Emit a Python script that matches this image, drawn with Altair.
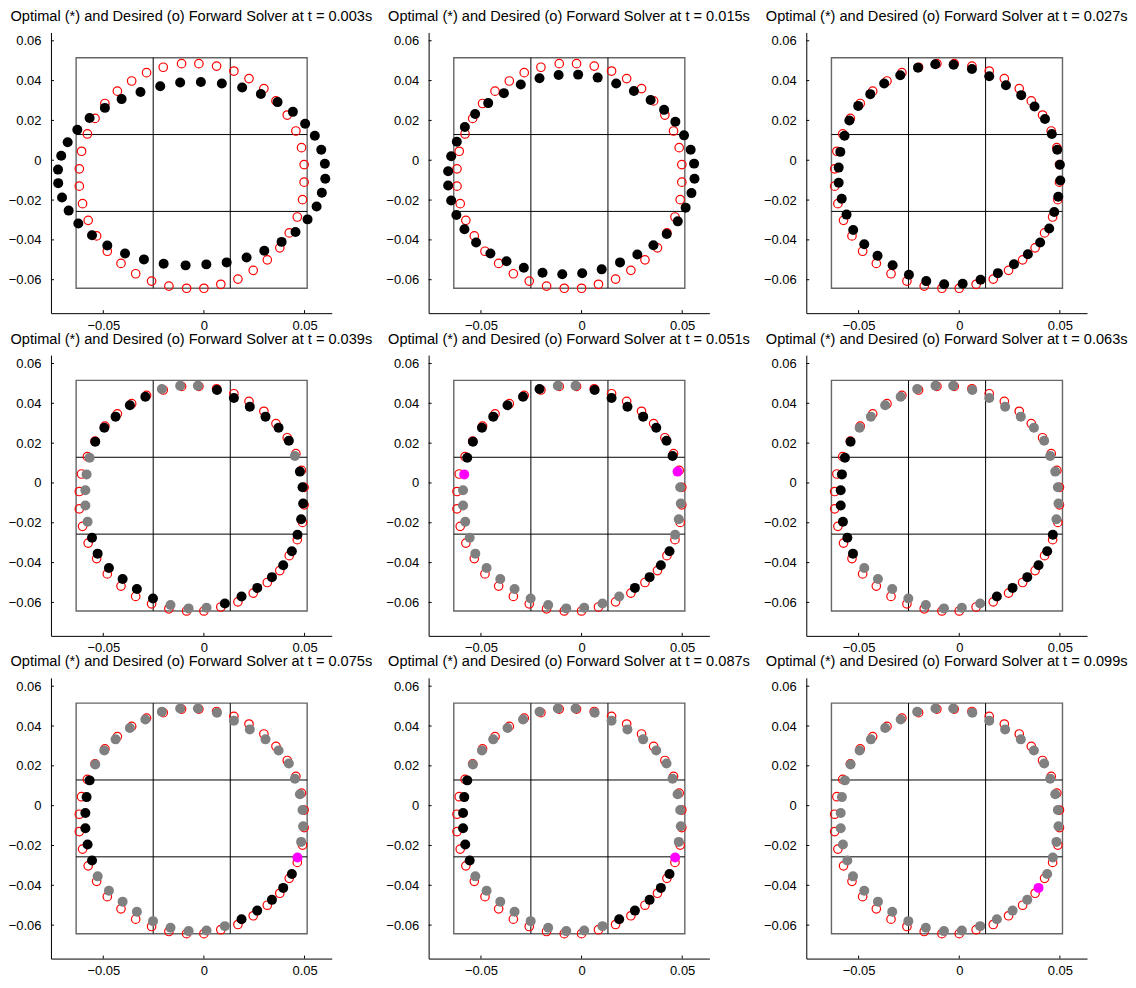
import altair as alt
import pandas as pd

FONT = "Liberation Sans"
TIMES = ["0.003", "0.015", "0.027", "0.039", "0.051", "0.063", "0.075", "0.087", "0.099"]

X_DOMAIN = [-0.0760, 0.0635]
Y_DOMAIN = [-0.0768, 0.0642]
X_TICKS = [-0.05, 0, 0.05]
Y_TICKS = [-0.06, -0.04, -0.02, 0, 0.02, 0.04, 0.06]

BOX_X = [-0.0635, 0.0513]
BOX_Y = [-0.0643, 0.0515]
VLINES_X = [-0.0252, 0.0131]
HLINES_Y = [0.0129, -0.0257]

# desired (red open circles)
DES_X = [-0.0025, -0.0111, -0.0202, -0.0285, -0.0359, -0.0430, -0.0492, -0.0541, -0.0579, -0.0608,
         -0.0619, -0.0619, -0.0603, -0.0575, -0.0533, -0.0480, -0.0412, -0.0339, -0.0260, -0.0174,
         -0.0086, 0.0000, 0.0084, 0.0169, 0.0245, 0.0315, 0.0377, 0.0424, 0.0464, 0.0490,
         0.0498, 0.0498, 0.0485, 0.0457, 0.0414, 0.0358, 0.0298, 0.0224, 0.0149, 0.0063]
DES_Y = [0.0485, 0.0485, 0.0467, 0.0440, 0.0398, 0.0347, 0.0285, 0.0210, 0.0132, 0.0045,
         -0.0043, -0.0130, -0.0218, -0.0302, -0.0380, -0.0457, -0.0518, -0.0570, -0.0607, -0.0632,
         -0.0643, -0.0643, -0.0623, -0.0597, -0.0553, -0.0500, -0.0440, -0.0365, -0.0285, -0.0198,
         -0.0110, -0.0022, 0.0063, 0.0147, 0.0227, 0.0298, 0.0360, 0.0410, 0.0448, 0.0473]

# optimal (filled) at t = 0.003
P1_X = [-0.0015, -0.0118, -0.0217, -0.0315, -0.0409, -0.0492, -0.0568, -0.0629, -0.0677, -0.0709,
        -0.0725, -0.0724, -0.0705, -0.0672, -0.0624, -0.0556, -0.0480, -0.0392, -0.0298, -0.0200,
        -0.0091, 0.0012, 0.0113, 0.0212, 0.0300, 0.0386, 0.0455, 0.0515, 0.0560, 0.0586,
        0.0603, 0.0601, 0.0583, 0.0551, 0.0503, 0.0442, 0.0366, 0.0283, 0.0190, 0.0089]
P1_Y = [0.0393, 0.0390, 0.0372, 0.0343, 0.0307, 0.0263, 0.0212, 0.0153, 0.0090, 0.0023,
        -0.0047, -0.0115, -0.0187, -0.0253, -0.0318, -0.0377, -0.0428, -0.0468, -0.0498, -0.0520,
        -0.0528, -0.0523, -0.0513, -0.0488, -0.0455, -0.0410, -0.0360, -0.0297, -0.0232, -0.0163,
        -0.0093, -0.0018, 0.0053, 0.0123, 0.0183, 0.0243, 0.0292, 0.0333, 0.0365, 0.0385]

# t = 0.015
P2_X = [-0.0017, -0.0114, -0.0209, -0.0302, -0.0386, -0.0464, -0.0529, -0.0580, -0.0620, -0.0648,
        -0.0663, -0.0663, -0.0648, -0.0622, -0.0582, -0.0524, -0.0453, -0.0373, -0.0287, -0.0194,
        -0.0096, 0.0003, 0.0100, 0.0191, 0.0277, 0.0357, 0.0423, 0.0478, 0.0517, 0.0546,
        0.0561, 0.0559, 0.0542, 0.0509, 0.0466, 0.0410, 0.0343, 0.0260, 0.0172, 0.0080]
P2_Y = [0.0430, 0.0428, 0.0412, 0.0380, 0.0337, 0.0287, 0.0232, 0.0167, 0.0093, 0.0020,
        -0.0055, -0.0127, -0.0202, -0.0275, -0.0347, -0.0413, -0.0468, -0.0507, -0.0540, -0.0565,
        -0.0573, -0.0568, -0.0548, -0.0513, -0.0473, -0.0427, -0.0370, -0.0307, -0.0238, -0.0165,
        -0.0093, -0.0017, 0.0053, 0.0125, 0.0193, 0.0253, 0.0303, 0.0348, 0.0385, 0.0415]

# t = 0.027
P3_X = [-0.0028, -0.0119, -0.0205, -0.0293, -0.0373, -0.0442, -0.0502, -0.0546, -0.0570, -0.0591,
        -0.0599, -0.0599, -0.0584, -0.0560, -0.0527, -0.0472, -0.0406, -0.0331, -0.0250, -0.0164,
        -0.0075, 0.0017, 0.0106, 0.0192, 0.0272, 0.0341, 0.0402, 0.0447, 0.0472, 0.0492,
        0.0502, 0.0500, 0.0487, 0.0460, 0.0426, 0.0374, 0.0308, 0.0232, 0.0149, 0.0063]
P3_Y = [0.0480, 0.0482, 0.0465, 0.0427, 0.0385, 0.0332, 0.0273, 0.0200, 0.0123, 0.0042,
        -0.0037, -0.0113, -0.0193, -0.0273, -0.0350, -0.0422, -0.0480, -0.0527, -0.0575, -0.0607,
        -0.0623, -0.0620, -0.0600, -0.0567, -0.0522, -0.0472, -0.0413, -0.0343, -0.0260, -0.0183,
        -0.0102, -0.0023, 0.0053, 0.0132, 0.0207, 0.0270, 0.0327, 0.0377, 0.0422, 0.0458]

# t >= 0.039 (converged positions)
C_X = [-0.0030, -0.0118, -0.0209, -0.0291, -0.0368, -0.0439, -0.0495, -0.0540, -0.0568, -0.0583,
       -0.0589, -0.0589, -0.0578, -0.0556, -0.0528, -0.0472, -0.0404, -0.0333, -0.0253, -0.0166,
       -0.0076, 0.0013, 0.0104, 0.0187, 0.0265, 0.0338, 0.0394, 0.0437, 0.0465, 0.0483,
       0.0493, 0.0490, 0.0477, 0.0452, 0.0422, 0.0371, 0.0306, 0.0228, 0.0149, 0.0065]
C_Y = [0.0488, 0.0488, 0.0472, 0.0433, 0.0390, 0.0333, 0.0277, 0.0207, 0.0127, 0.0043,
       -0.0037, -0.0113, -0.0195, -0.0275, -0.0355, -0.0427, -0.0482, -0.0533, -0.0580, -0.0613,
       -0.0630, -0.0627, -0.0605, -0.0570, -0.0527, -0.0473, -0.0413, -0.0343, -0.0260, -0.0182,
       -0.0103, -0.0022, 0.0057, 0.0135, 0.0212, 0.0277, 0.0333, 0.0383, 0.0427, 0.0467]

# colour code per point: k = black, g = grey, m = magenta
COL_1 = "kkkkkkkkkkkkkkkkkkkkkkkkkkkkkkkkkkkkkkkk"
COL_2 = "kkkkkkkkkkkkkkkkkkkkkkkkkkkkkkkkkkkkkkkk"
COL_3 = "kkkkkkkkkkkkkkkkkkkkkkkkkkkkkkkkkkkkkkkk"
COL_4 = "gggkkkkkgggggkkkkkkgggkkkkkkkkkkkgkkkkkk"
COL_5 = "ggkkkkkkkmggggggggggggggkkkkggggmkkkkkkk"
COL_6 = "gggggggkkkkkkkkggggggggkkkkkkggggggggggg"
COL_7 = "ggggggggkkkkkkgggggggggkkkkkmggggggggggg"
COL_8 = "ggggggggkkkkkkgggggggggkkkkkmggggggggggg"
COL_9 = "ggggggggggggggggggggggggggmggggggggggggg"

PANELS = [
    (P1_X, P1_Y, COL_1), (P2_X, P2_Y, COL_2), (P3_X, P3_Y, COL_3),
    (C_X, C_Y, COL_4), (C_X, C_Y, COL_5), (C_X, C_Y, COL_6),
    (C_X, C_Y, COL_7), (C_X, C_Y, COL_8), (C_X, C_Y, COL_9),
]

W, H = 281, 281


def make_panel(t, px, py, cols):
    xs = alt.Scale(domain=X_DOMAIN, nice=False, zero=False)
    ys = alt.Scale(domain=Y_DOMAIN, nice=False, zero=False)
    xaxis = alt.Axis(values=X_TICKS, format="~g", ticks=False, grid=False, domainColor="black",
                     domainWidth=1, labelPadding=6, labelFontSize=13, labelFont=FONT,
                     labelColor="black", title=None, labelOverlap=False)
    yaxis = alt.Axis(values=Y_TICKS, format="~g", ticks=False, grid=False, domainColor="black",
                     domainWidth=1, labelPadding=10, labelFontSize=13, labelFont=FONT,
                     labelColor="black", title=None, labelOverlap=False)

    def X(f):
        return alt.X(f, scale=xs, axis=xaxis, title=None)

    def Y(f):
        return alt.Y(f, scale=ys, axis=yaxis, title=None)

    box_df = pd.DataFrame({"x": [BOX_X[0]], "x2": [BOX_X[1]], "y": [BOX_Y[0]], "y2": [BOX_Y[1]]})
    box = alt.Chart(box_df).mark_rect(fillOpacity=0, stroke="#666666", strokeWidth=1.4).encode(
        x=X("x:Q"), x2="x2:Q", y=Y("y:Q"), y2="y2:Q")

    vl_df = pd.DataFrame({"x": VLINES_X, "y": [BOX_Y[0]] * len(VLINES_X), "y2": [BOX_Y[1]] * len(VLINES_X)})
    vl = alt.Chart(vl_df).mark_rule(color="black", strokeWidth=1).encode(
        x=X("x:Q"), y=Y("y:Q"), y2="y2:Q")

    hl_df = pd.DataFrame({"y": HLINES_Y, "x": [BOX_X[0]] * len(HLINES_Y), "x2": [BOX_X[1]] * len(HLINES_Y)})
    hl = alt.Chart(hl_df).mark_rule(color="black", strokeWidth=1).encode(
        y=Y("y:Q"), x=X("x:Q"), x2="x2:Q")

    des = alt.Chart(pd.DataFrame({"x": DES_X, "y": DES_Y})).mark_point(
        shape="circle", filled=False, color="#ff0000", size=72, strokeWidth=1.2, opacity=1).encode(
        x=X("x:Q"), y=Y("y:Q"))

    opt = alt.Chart(pd.DataFrame({"x": px, "y": py, "c": list(cols)})).mark_circle(
        size=100, opacity=1).encode(
        x=X("x:Q"), y=Y("y:Q"),
        color=alt.Color("c:N", scale=alt.Scale(domain=["k", "g", "m"],
                                               range=["#000000", "#808080", "#ff00ff"]),
                        legend=None))

    ytk = alt.Chart(pd.DataFrame({"y": Y_TICKS})).mark_rule(color="black", strokeWidth=1).encode(
        y=Y("y:Q"), x=alt.value(0), x2=alt.value(3))
    xtk = alt.Chart(pd.DataFrame({"x": X_TICKS})).mark_rule(color="black", strokeWidth=1).encode(
        x=X("x:Q"), y=alt.value(H), y2=alt.value(H - 3))

    title = alt.TitleParams(text=f"Optimal (*) and Desired (o) Forward Solver at t = {t}s",
                            fontSize=14.6, font=FONT, fontWeight="normal", color="black",
                            anchor="middle", offset=9)
    return alt.layer(box, vl, hl, des, opt, ytk, xtk).properties(width=W, height=H, title=title)


panels = [make_panel(t, *p) for t, p in zip(TIMES, PANELS)]
chart = alt.concat(*panels, columns=3, spacing={"row": 42, "column": 97},
                   bounds="flush").configure_view(strokeOpacity=0).properties(
    padding={"left": 0, "top": 0, "right": 0, "bottom": 0}, background="white")

chart.save("out.html", embed_options={"renderer": "svg", "actions": False})
